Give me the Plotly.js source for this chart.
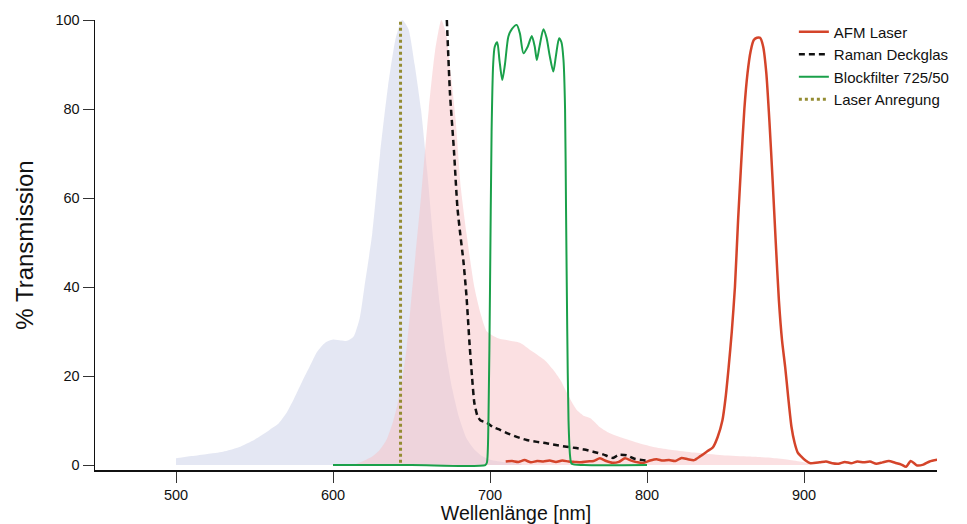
<!DOCTYPE html>
<html>
<head>
<meta charset="utf-8">
<script src="https://cdn.plot.ly/plotly-3.0.1.min.js"></script>
<style>html,body{margin:0;padding:0;background:#fff;}#chart{width:967px;height:524px;}</style>
</head>
<body>
<div id="chart"></div>
<script>
// Excitation spectrum (blue shaded)
const exX = [500,510,520,530,540,550,555,560,565,570,575,580,585,590,595,600,605,609,613,617,620,625,630,635,640,644,648,652,656,660,664,668,672,676,680,685,690,695,700,710,720];
const exY = [1.5,2,2.5,3,4,5.7,6.8,8,9.2,11.5,14.8,18.5,22,25.5,27.5,28.2,28,27.9,28.8,33,40,52,70,85,96,100,98,90,80,66,50,36,25,17,11,6,3.5,2,1.2,0.6,0.3];
// Emission spectrum (pink shaded)
const emX = [615,620,625,630,634,638,641,644,647,651,656,661,665,669,672,675,678,681.5,685,690,694,698,705,712,719,727,735,740,745,750,755,760,764,770,776,785,795,805,816,830,848,865,880,890,899,903];
const emY = [0.3,1,1.9,3.5,5.6,9.5,13.5,19,26.6,41.6,60,80,93,100,97,88,78,62,52,40,34,30,28.5,28,27.5,25.5,23.5,21.5,19,15.5,12.5,11,10.5,8.5,7.2,6,4.9,4,3.4,2.8,2.2,1.9,1.6,1.2,0.7,0.3];
// AFM Laser
const afmX = [710,714,718,722,726,730,734,738,742,746,750,754,758,762,766,770,774,778,782,786,790,794,798,802,806,810,814,818,822,826,830,834,838,842,845,848,850,852,854,856,858,860,862,864,866,868,870,872,874,876,878,880,882,884,886,888,890,892,894,896,898,901,904,910,914,918,922,926,930,934,938,942,946,950,954,958,962,965,968,972,976,980,985];
const afmY = [0.8,0.9,0.7,1.1,0.6,0.9,0.8,1.0,0.7,1.0,0.8,0.7,0.6,0.8,0.9,1.5,0.9,0.5,0.7,1.5,1.0,0.6,0.5,1.0,1.3,1.0,1.1,0.9,1.6,1.3,1.1,2.0,3.0,4.0,6.3,10,15,22,30,40,55,68,80,88,93,95.5,96,96,94,88,77,64,50,37,28,22,15,8.6,5,2.8,2.0,1.0,0.4,0.6,0.8,0.4,0.3,0.7,0.4,0.8,0.6,0.8,0.3,0.6,0.9,0.5,0.1,-0.4,0.9,-0.1,0.1,0.8,1.2];
// Raman Deckglas
const ramX = [672.5,674.5,677,679.2,681,683,685,687,688.5,690,692,694,697.9,702,706.4,712,718,723.4,730,736,742,748.8,755,760,765.6,772,778.3,782,787,792,797.6,800];
const ramY = [100,83.5,70.8,58,52,46,38,27,20,14,11,10,9.5,8.5,7.9,7,6.2,5.6,5.2,4.9,4.5,4.1,3.8,3.5,3,2.4,1.6,2.3,2.2,1.4,1.1,1.0];
// Blockfilter 725/50
const bfX = [600,650,697,698,699,700,701,702,703,704.6,706,707.8,709.5,711.7,714,717,719,721.3,724,726.6,728.5,729.8,731.5,734,736,738,740.3,742,744,745.5,746.8,747.8,748.4,749.2,750,751,752,760,800];
const bfY = [0,0,0,0.5,10,40,75,90,94,95,91,86.5,90,96.3,98,98.9,97,92.5,94,96.4,94,91,94,97.9,96,92,88.4,92,95.9,95,91,80,58,30,10,2,0.3,0,0];
// Laser Anregung
const laserX = [643,643];
const laserY = [0.5,100];

const F = '"Liberation Sans", Arial, sans-serif';

const traces = [
  {x: exX, y: exY, type:'scatter', mode:'lines', fill:'tozeroy', line:{width:0, shape:'spline', smoothing:0.6, color:'rgba(201,207,231,0)'}, fillcolor:'rgba(201,207,231,0.5)', showlegend:false, hoverinfo:'skip'},
  {x: emX, y: emY, type:'scatter', mode:'lines', fill:'tozeroy', line:{width:0, shape:'spline', smoothing:0.6, color:'rgba(247,193,197,0)'}, fillcolor:'rgba(247,193,197,0.5)', showlegend:false, hoverinfo:'skip'},
  {x: afmX, y: afmY, type:'scatter', mode:'lines', name:'AFM Laser', line:{color:'#d4442a', width:2.5, shape:'spline', smoothing:0.6}},
  {x: ramX, y: ramY, type:'scatter', mode:'lines', name:'Raman Deckglas', line:{color:'#111111', width:2.5, dash:'6px,4px', shape:'spline', smoothing:0.5}},
  {x: bfX, y: bfY, type:'scatter', mode:'lines', name:'Blockfilter 725/50', line:{color:'#1aa04a', width:2, shape:'spline', smoothing:0.7}},
  {x: laserX, y: laserY, type:'scatter', mode:'lines', name:'Laser Anregung', line:{color:'#948c32', width:3, dash:'dot'}}
];

const layout = {
  width: 967, height: 524,
  margin: {l:95, r:30, t:20, b:54, autoexpand:false},
  paper_bgcolor:'#fff', plot_bgcolor:'#fff',
  font: {family: F, color:'#111', size:15},
  showlegend: true,
  legend: {x:0.83, y:1.01, xanchor:'left', yanchor:'top', bgcolor:'rgba(0,0,0,0)', font:{family:F, size:15, color:'#111'}, tracegroupgap:0},
  xaxis: {
    range:[448.4, 984.7], showgrid:false, zeroline:false, showline:true, linecolor:'#111', linewidth:1.5,
    ticks:'outside', ticklen:11, tickwidth:1, tickcolor:'#333', tickvals:[500,600,700,800,900],
    tickfont:{family:F, size:14.5, color:'#111'},
    title:{text:'Wellenlänge [nm]', font:{family:F, size:19.5, color:'#111'}, standoff:5}
  },
  yaxis: {
    range:[-1.12, 100], showgrid:false, zeroline:false, showline:true, linecolor:'#111', linewidth:1.5,
    ticks:'outside', ticklen:11, tickwidth:1, tickcolor:'#333', tickvals:[0,20,40,60,80,100],
    tickfont:{family:F, size:14.5, color:'#111'},
    title:{text:'% Transmission', font:{family:F, size:24, color:'#111'}, standoff:15}
  }
};

Plotly.newPlot('chart', traces, layout, {displayModeBar:false, staticPlot:true});
</script>
</body>
</html>
